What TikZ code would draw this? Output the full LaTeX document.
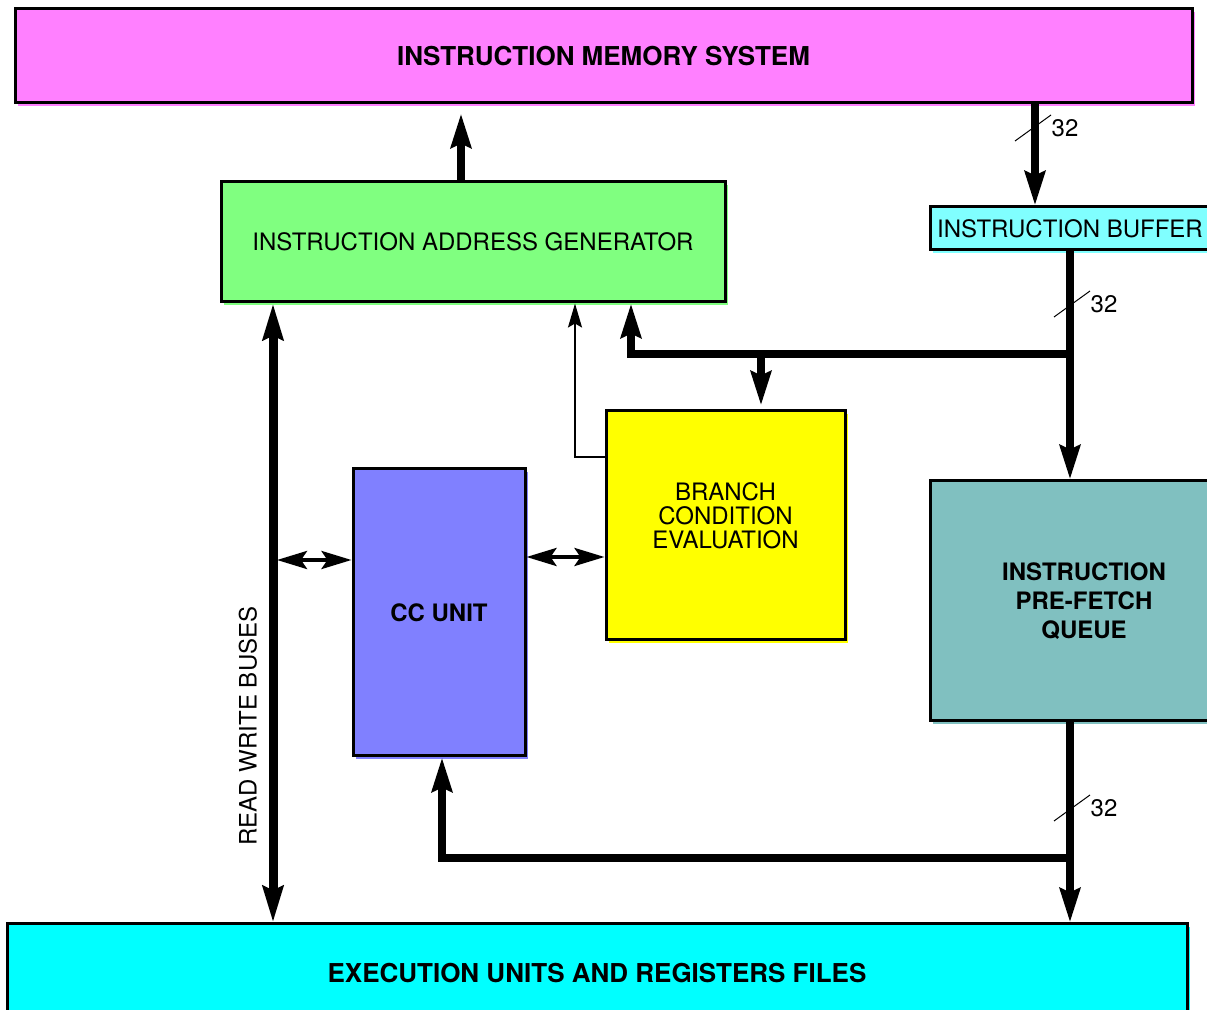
\documentclass[tikz,border=0pt]{standalone}
\usepackage{fontspec}
\setmainfont{TeX Gyre Heros}
\usetikzlibrary{arrows.meta}
\definecolor{memcol}{HTML}{FF80FF}
\definecolor{iagcol}{HTML}{80FF80}
\definecolor{bufcol}{HTML}{80FFFF}
\definecolor{bcecol}{HTML}{FFFF00}
\definecolor{cccol}{HTML}{8080FF}
\definecolor{pfqcol}{HTML}{80C0C0}
\definecolor{execol}{HTML}{00FFFF}
\begin{document}
\begin{tikzpicture}[x=0.5pt, y=-0.5pt,
    box/.style={draw, line width=1.5pt, inner sep=0pt, align=center,
        font=\fontsize{12}{12}\selectfont, fill=#1,
        preaction={fill=#1, transform canvas={xshift=1.5pt, yshift=-1.5pt}}},
    boldtext/.style={font=\bfseries\fontsize{#1}{14.5}\selectfont},
    bus/.style={line width=4pt, -{Stealth[length=17pt, width=10pt, inset=2pt]}},
    rwbus/.style={line width=4.5pt, {Stealth[length=18pt, width=10pt, inset=2pt]}-{Stealth[length=18pt, width=10pt, inset=2pt]}},
    dbl/.style={line width=2pt, {Stealth[length=15pt, width=9pt, inset=3pt]}-{Stealth[length=15pt, width=9pt, inset=3pt]}},
    wire/.style={line width=1pt, -{Stealth[length=12pt, width=7pt, inset=2pt]}},
    tick/.style={line width=0.5pt}]
    \useasboundingbox (0,0) rectangle (1207,1010);
    \clip (0,0) rectangle (1207,1010);

    \node[box=memcol, boldtext=13, minimum width=588.5pt, minimum height=47pt] (mem) at (603.5,56) {INSTRUCTION MEMORY SYSTEM};
    \node[box=iagcol, minimum width=252pt, minimum height=60pt] (iag) at (473,242) {INSTRUCTION ADDRESS GENERATOR};
    \node[box=bufcol, minimum width=140pt, minimum height=21.5pt] (buf) at (1070,228.5) {INSTRUCTION BUFFER};
    \node[box=bcecol, text depth=10pt, minimum width=119.5pt, minimum height=114.5pt] (bce) at (725.5,525.5) {BRANCH\\CONDITION\\EVALUATION};
    \node[box=cccol, boldtext=12, minimum width=86pt, minimum height=143.5pt] (cc) at (439,612.5) {CC UNIT};
    \node[box=pfqcol, boldtext=12, minimum width=154pt, minimum height=120pt] (pfq) at (1084,601) {INSTRUCTION\\PRE-FETCH\\QUEUE};
    \node[box=execol, boldtext=13, minimum width=590pt, minimum height=49pt] (exe) at (597,973) {EXECUTION UNITS AND REGISTERS FILES};

    % bus columns and junctions
    \coordinate (up) at (461,0);
    \coordinate (fetch) at (1035,0);
    \coordinate (split) at (1070,354);
    \coordinate (join) at (1070,858);
    \coordinate (fb) at (631,0);
    \coordinate (tobce) at (761,0);
    \coordinate (bcout) at (575,457);
    \coordinate (rw) at (273,0);
    \coordinate (tocc) at (442,0);
    \coordinate (rowA) at (0,560);
    \coordinate (rowB) at (0,557);

    \draw[bus, shorten >=4.5pt] (up |- iag.north) -- (up |- mem.south);
    \draw[bus] (fetch |- mem.south) -- (fetch |- buf.north);
    \draw[bus] (buf.south) -- (buf.south |- pfq.north);
    \draw[bus] (split) -| (fb |- iag.south);
    \draw[bus, shorten >=2pt] (tobce |- split) -- (tobce |- bce.north);
    \draw[wire] (bce.west |- bcout) -| (bcout |- iag.south);
    \draw[rwbus] (rw |- iag.south) -- (rw |- exe.north);
    \draw[dbl, shorten <=2pt] (rw |- rowA) -- (cc.west |- rowA);
    \draw[dbl] (cc.east |- rowB) -- (bce.west |- rowB);
    \draw[bus] (buf.south |- pfq.south) -- (buf.south |- exe.north);
    \draw[bus] (join) -| (tocc |- cc.south);

    \node[rotate=90, font=\fontsize{12}{12}\selectfont] (rwlabel) at (248,726) {READ WRITE BUSES};

    % bus widths
    \foreach \x/\y [count=\i] in {1033/128, 1072/304, 1072/808} {
        \draw[tick] (\x-18,\y+13) -- (\x+18,\y-13);
        \node[font=\fontsize{12}{12}\selectfont] (width\i) at (\x+32,\y) {32};
    }
\end{tikzpicture}
\end{document}
